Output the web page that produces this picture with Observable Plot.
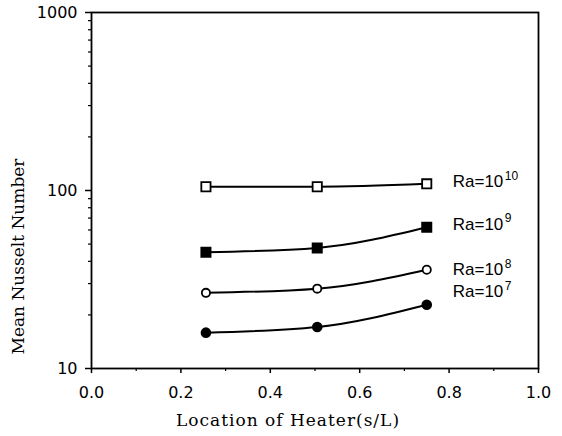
<!DOCTYPE html>
<html>
<head>
<meta charset="utf-8">
<script src="https://cdn.jsdelivr.net/npm/d3@7"></script>
<script src="https://cdn.jsdelivr.net/npm/@observablehq/plot@0.6"></script>
<style>
  html, body { margin: 0; padding: 0; background: #fff; }
  .xlabel text { letter-spacing: 1px; }
</style>
</head>
<body>
<div id="chart"></div>
<script>
// ---- data ----
const heaterLocation = [0.256, 0.505, 0.75];
const nuRa7  = [15.9, 17.1, 22.8];
const nuRa8  = [26.6, 28.1, 35.9];
const nuRa9  = [45.0, 47.6, 62.2];
const nuRa10 = [105, 105, 109];
const exponents = ["7", "8", "9", "10"];
const xTicks = [0, 0.2, 0.4, 0.6, 0.8, 1.0];
const xMinorTicks = [0.1, 0.3, 0.5, 0.7, 0.9];
const yTicks = [10, 100, 1000];
const yMinorTicks = [20, 30, 40, 50, 60, 70, 80, 90, 200, 300, 400, 500, 600, 700, 800, 900];

// ---- table built from arrays ----
const seriesValues = [nuRa7, nuRa8, nuRa9, nuRa10];
const rows = [];
exponents.forEach((e, i) => {
  heaterLocation.forEach((x, j) => rows.push({ exp: e, x, y: seriesValues[i][j] }));
});
const lastRows = exponents.map(e => rows.filter(r => r.exp === e).at(-1));

// ---- styles ----
const markerStyle = {
  "7":  { symbol: "circle", fill: "black", r: 4.4 },
  "8":  { symbol: "circle", fill: "white", r: 4.1 },
  "9":  { symbol: "square", fill: "black", r: 5.2 },
  "10": { symbol: "square", fill: "white", r: 5.2 }
};
const labelDy = { "7": -13, "8": 0, "9": -3, "10": -2 };

const dotMarks = exponents.map(e => Plot.dot(rows.filter(r => r.exp === e), {
  x: "x", y: "y",
  symbol: markerStyle[e].symbol,
  r: markerStyle[e].r,
  fill: markerStyle[e].fill,
  stroke: "black",
  strokeWidth: 1.8
}));

const labelMarks = exponents.flatMap(e => {
  const d = lastRows.filter(r => r.exp === e);
  return [
    Plot.text(d, { x: "x", y: "y", text: () => "Ra=10", textAnchor: "start",
      dx: 26, dy: labelDy[e], fontFamily: "Liberation Sans", fontSize: 17, fill: "black" }),
    Plot.text(d, { x: "x", y: "y", text: r => r.exp, textAnchor: "start",
      dx: 78, dy: labelDy[e] - 6, fontFamily: "Liberation Sans", fontSize: 12, fill: "black" })
  ];
});

const chart = Plot.plot({
  width: 562,
  height: 436,
  marginLeft: 91,
  marginRight: 24,
  marginTop: 12,
  marginBottom: 68,
  style: { fontFamily: "DejaVu Sans", fontSize: "16px", background: "white", color: "black" },
  x: { domain: [0, 1] },
  y: { type: "log", domain: [10, 1000] },
  marks: [
    Plot.axisX(xTicks, { tickSize: 5, tickPadding: 13, tickFormat: d3.format(".1f"),
      fontSize: 16, strokeWidth: 1.5, label: null }),
    Plot.axisX(xMinorTicks, { tickSize: 3, tickFormat: () => "", strokeWidth: 1.2, label: null }),
    Plot.axisY(yTicks, { tickSize: 6, tickPadding: 8, tickFormat: d => String(d),
      fontSize: 16, strokeWidth: 1.5, label: null }),
    Plot.axisY(yMinorTicks, { tickSize: 3, tickFormat: () => "", strokeWidth: 1.2, label: null }),
    Plot.frame({ stroke: "black", strokeWidth: 1.8 }),
    Plot.line(rows, { x: "x", y: "y", z: "exp", curve: "monotone-x", stroke: "black", strokeWidth: 2 }),
    ...dotMarks,
    ...labelMarks,
    Plot.text(["Location of Heater(s/L)"], { frameAnchor: "bottom", textAnchor: "middle",
      lineAnchor: "middle", dx: -27, dy: 52, className: "xlabel",
      fontFamily: "DejaVu Serif", fontSize: 17, fill: "black" }),
    Plot.text(["Mean Nusselt Number"], { frameAnchor: "left", textAnchor: "middle",
      lineAnchor: "middle", rotate: -90, dx: -73, dy: 66,
      fontFamily: "DejaVu Serif", fontSize: 17, fill: "black" })
  ]
});
document.getElementById("chart").appendChild(chart);
</script>
</body>
</html>
